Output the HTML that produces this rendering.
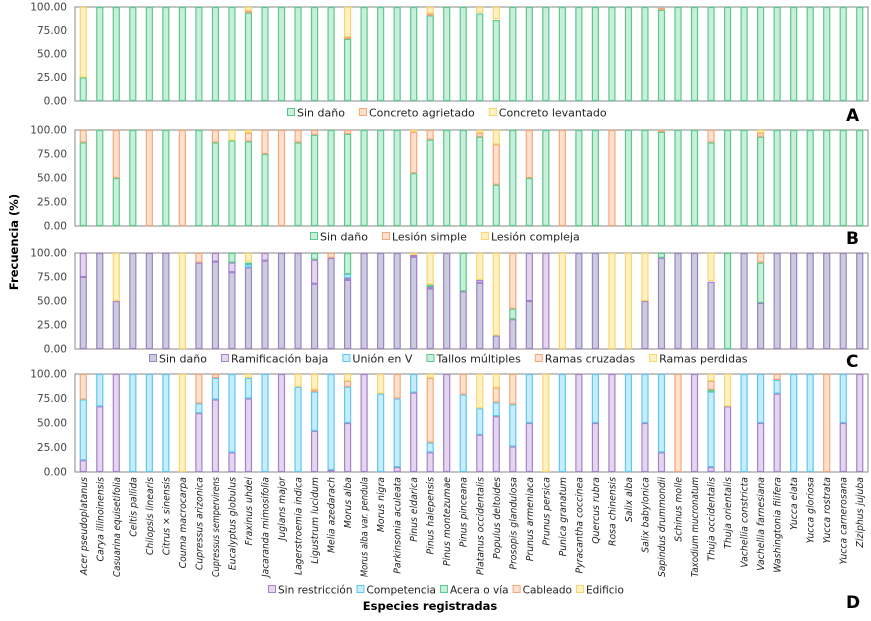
<!DOCTYPE html>
<html><head><meta charset="utf-8"><style>
html,body{margin:0;padding:0;background:#fff;}
svg{display:block;font-family:"DejaVu Sans","Liberation Sans",sans-serif;}
</style></head><body>
<svg id="chart" width="871" height="621" viewBox="0 0 871 621" xmlns="http://www.w3.org/2000/svg"></svg>
<script>
const species = ["Acer pseudoplatanus","Carya illinoinensis","Casuarina equisetifolia","Celtis pallida","Chilopsis linearis","Citrus × sinensis","Couma macrocarpa","Cupressus arizonica","Cupressus sempervirens","Eucalyptus globulus","Fraxinus uhdei","Jacaranda mimosifolia","Juglans major","Lagerstroemia indica","Ligustrum lucidum","Melia azedarach","Morus alba","Morus alba var. pendula","Morus nigra","Parkinsonia aculeata","Pinus eldarica","Pinus halepensis","Pinus montezumae","Pinus pinceana","Platanus occidentalis","Populus deltoides","Prosopis glandulosa","Prunus armeniaca","Prunus persica","Punica granatum","Pyracantha coccinea","Quercus rubra","Rosa chinensis","Salix alba","Salix babylonica","Sapindus drummondii","Schinus molle","Taxodium mucronatum","Thuja occidentalis","Thuja orientalis","Vachellia constricta","Vachellia farnesiana","Washingtonia filifera","Yucca elata","Yucca gloriosa","Yucca rostrata","Yucca carnerosana","Ziziphus jujuba"];
const yTicks = [0,25,50,75,100];
// Panel A
const aSinDano = [25,100,100,100,100,100,100,100,100,100,94,100,100,100,100,100,66,100,100,100,100,91,100,100,93,86,100,100,100,100,100,100,100,100,100,97,100,100,100,100,100,100,100,100,100,100,100,100];
const aAgrietado=[0,0,0,0,0,0,0,0,0,0,2,0,0,0,0,0,2,0,0,0,0,2,0,0,1,1,0,0,0,0,0,0,0,0,0,2,0,0,0,0,0,0,0,0,0,0,0,0];
const aLevantado=[75,0,0,0,0,0,0,0,0,0,4,0,0,0,0,0,32,0,0,0,0,7,0,0,6,13,0,0,0,0,0,0,0,0,0,1,0,0,0,0,0,0,0,0,0,0,0,0];
// Panel B
const bSinDano = [87,100,50,100,0,100,0,100,87,89,88,75,0,87,95,100,96,100,100,100,55,90,100,100,93,43,100,50,100,0,100,100,0,100,100,98,100,100,87,100,100,93,100,100,100,100,100,100];
const bSimple  = [13,0,50,0,100,0,100,0,13,0,9,25,100,13,5,0,4,0,0,0,43,10,0,0,4,42,0,50,0,100,0,0,100,0,0,2,0,0,13,0,0,4,0,0,0,0,0,0];
const bCompleja= [0,0,0,0,0,0,0,0,0,11,3,0,0,0,0,0,0,0,0,0,2,0,0,0,3,15,0,0,0,0,0,0,0,0,0,0,0,0,0,0,0,3,0,0,0,0,0,0];
// Panel C
const cSinDano = [75,100,50,100,100,100,0,90,91,80,85,92,100,100,68,95,72,100,100,100,96,63,100,60,69,14,31,50,0,0,100,100,0,0,50,95,100,100,70,0,100,48,100,100,100,100,100,100];
const cRamBaja = [25,0,0,0,0,0,0,0,9,10,0,8,0,0,25,0,2,0,0,0,2,2,0,0,3,0,0,50,100,0,0,0,0,0,0,0,0,0,1,0,0,0,0,0,0,0,0,0];
const cUnionV  = [0,0,0,0,0,0,0,0,0,0,3,0,0,0,0,0,4,0,0,0,0,0,0,0,0,0,0,0,0,0,0,0,0,0,0,0,0,0,0,0,0,0,0,0,0,0,0,0];
const cTallos  = [0,0,0,0,0,0,0,0,0,10,2,0,0,0,7,0,22,0,0,0,0,2,0,40,0,0,11,0,0,0,0,0,0,0,0,5,0,0,0,100,0,42,0,0,0,0,0,0];
const cCruzadas= [0,0,0,0,0,0,0,10,0,0,1,0,0,0,0,5,0,0,0,0,0,0,0,0,0,0,58,0,0,0,0,0,0,0,0,0,0,0,0,0,0,10,0,0,0,0,0,0];
const cPerdidas= [0,0,50,0,0,0,100,0,0,0,9,0,0,0,0,0,0,0,0,0,2,33,0,0,28,86,0,0,0,100,0,0,100,100,50,0,0,0,29,0,0,0,0,0,0,0,0,0];
// Panel D
const dSinRestr= [12,67,100,0,0,0,0,60,74,20,75,0,100,0,42,2,50,100,0,5,81,20,100,0,38,57,26,50,0,0,100,50,100,0,50,20,0,100,5,67,0,50,80,0,0,0,50,100];
const dCompet  = [62,33,0,100,100,100,0,10,22,80,21,100,0,87,40,98,37,0,80,70,19,10,0,79,27,14,43,50,0,100,0,50,0,100,50,80,0,0,77,0,100,50,14,100,100,0,50,0];
const dAcera   = [0,0,0,0,0,0,0,0,0,0,0,0,0,0,0,0,0,0,0,0,0,0,0,0,0,0,0,0,0,0,0,0,0,0,0,0,0,0,2,0,0,0,0,0,0,0,0,0];
const dCableado= [26,0,0,0,0,0,0,30,4,0,0,0,0,0,2,0,6,0,0,25,0,66,0,21,0,15,31,0,0,0,0,0,0,0,0,0,100,0,9,0,0,0,6,0,0,100,0,0];
const dEdificio= [0,0,0,0,0,0,100,0,0,0,4,0,0,13,16,0,7,0,20,0,0,4,0,0,35,14,0,0,100,0,0,0,0,0,0,0,0,0,7,33,0,0,0,0,0,0,0,0];

const C = {
  green:["#c9eedb","#5cc98c"], peach:["#fde1cf","#f4a87a"], yellow:["#fff1c6","#fbd56a"],
  gray:["#c9cedc","#a27fcb"], lilac:["#e3d6ee","#a583c9"], blue:["#c8ecfa","#5fc8ee"]
};
const svg = document.getElementById('chart');
const NS = "http://www.w3.org/2000/svg";
function mk(tag, attrs, parent){const e=document.createElementNS(NS,tag);for(const k in attrs)e.setAttribute(k,attrs[k]);(parent||svg).appendChild(e);return e;}
const X0=75, X1=868, BW=(X1-X0)/species.length, BARW=7;
function xScale(i){return X0+BW*(i+0.5);}

const panels = [
  {id:"a", letter:"A", top:7, bot:101, letterY:121, legY:113, legX:287,
   series:[["Sin daño",aSinDano,C.green],["Concreto agrietado",aAgrietado,C.peach],["Concreto levantado",aLevantado,C.yellow]]},
  {id:"b", letter:"B", top:130, bot:226, letterY:244, legY:237, legX:310,
   series:[["Sin daño",bSinDano,C.green],["Lesión simple",bSimple,C.peach],["Lesión compleja",bCompleja,C.yellow]]},
  {id:"c", letter:"C", top:253, bot:349, letterY:367, legY:359, legX:149,
   series:[["Sin daño",cSinDano,C.gray],["Ramificación baja",cRamBaja,C.lilac],["Unión en V",cUnionV,C.blue],["Tallos múltiples",cTallos,C.green],["Ramas cruzadas",cCruzadas,C.peach],["Ramas perdidas",cPerdidas,C.yellow]]},
  {id:"d", letter:"D", top:374, bot:472, letterY:608, legY:590, legX:268, tight:true,
   series:[["Sin restricción",dSinRestr,C.lilac],["Competencia",dCompet,C.blue],["Acera o vía",dAcera,C.green],["Cableado",dCableado,C.peach],["Edificio",dEdificio,C.yellow]]}
];

panels.forEach(p=>{
  const g = mk('g',{});
  
  
  const yScale = v => p.bot - (p.bot-p.top)*v/100;
  const frame = mk('rect',{x:X0,y:p.top,width:X1-X0,height:p.bot-p.top,fill:"none",stroke:"#8a8a8a","stroke-width":1},g);
  
  
  yTicks.forEach(t=>{
    const tx = mk('text',{x:67,y:yScale(t)+3.5,"text-anchor":"end","font-size":"10.5",fill:"#444"},g);
    tx.textContent = t.toFixed(2);
    
    
  });
  species.forEach((s,i)=>{
    let cum=0;
    p.series.forEach((ser,k)=>{
      const v = ser[1][i];
      if(!v) return;
      const r = mk('rect',{x:xScale(i)-BARW/2+0.5,y:yScale(cum+v)+0.5,width:BARW-1,height:Math.max(0,yScale(cum)-yScale(cum+v)-1),fill:ser[2][0],stroke:ser[2][1],"stroke-width":1.2},g);
      
      
      cum+=v;
    });
  });
  let lx = p.legX;
  const fs = p.tight ? 10.5 : 11;
  const gap = p.tight ? 4 : 14;
  p.series.forEach((ser,k)=>{
    const sq = mk('rect',{x:lx+0.5,y:p.legY-4.5,width:7,height:7,fill:ser[2][0],stroke:ser[2][1],"stroke-width":1},g);
    
    
    const lt = mk('text',{x:lx+10,y:p.legY+3.5,"font-size":fs,fill:"#222"},g);
    lt.textContent = ser[0];
    
    
    lx = lx + 10 + lt.getComputedTextLength() + gap;
  });
  const L = mk('text',{x:846,y:p.letterY,"font-size":"17","font-weight":"bold",fill:"#000"},g);
  L.textContent = p.letter;
  
  
});

species.forEach((s,i)=>{
  const x = xScale(i)+3.5, y = 477;
  const t = mk('text',{x:x,y:y,transform:`rotate(-90 ${x} ${y})`,"text-anchor":"end","font-size":"9.3","font-style":"italic",fill:"#222"});
  t.textContent = s;
  
  
  if (t.getComputedTextLength() > 100) { t.setAttribute('textLength','100'); t.setAttribute('lengthAdjust','spacingAndGlyphs'); }
});
const xt = mk('text',{x:430,y:610,"text-anchor":"middle","font-size":"11.5","font-weight":"bold",fill:"#000"});
xt.textContent="Especies registradas";


const yt = mk('text',{x:18,y:242,transform:"rotate(-90 18 242)","text-anchor":"middle","font-size":"11.5","font-weight":"bold",fill:"#000"});
yt.textContent="Frecuencia (%)";


</script>
</body></html>
